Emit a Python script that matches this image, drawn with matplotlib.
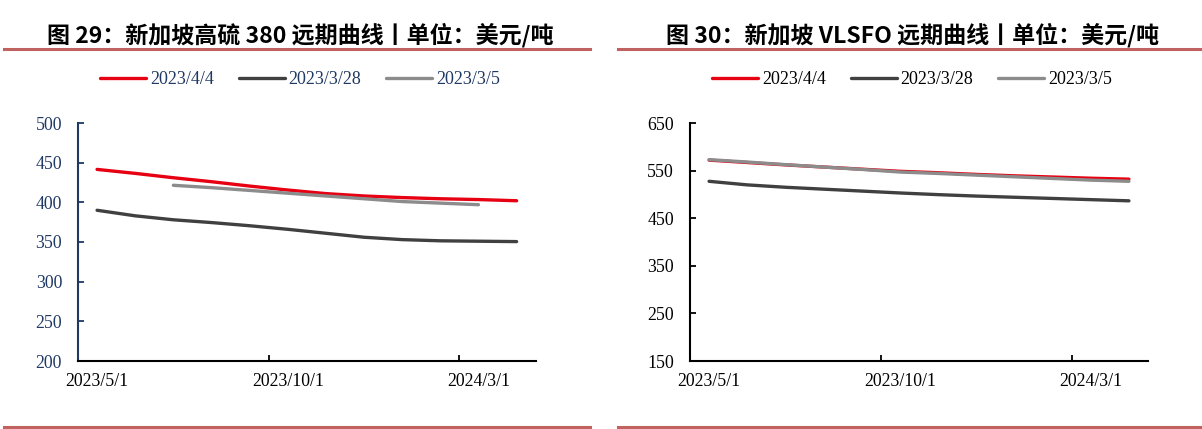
import numpy as np
import matplotlib.pyplot as plt
from matplotlib.lines import Line2D

# monthly categories of the forward curve
months = ['2023/5/1', '2023/6/1', '2023/7/1', '2023/8/1', '2023/9/1', '2023/10/1',
          '2023/11/1', '2023/12/1', '2024/1/1', '2024/2/1', '2024/3/1', '2024/4/1']
shown = [0, 5, 10]

series_names = ['2023/4/4', '2023/3/28', '2023/3/5']

# 新加坡高硫 380
hs_0404 = [441.5, 436.5, 431, 426, 420.5, 415.5, 411, 408, 406, 404.5, 403.5, 402]
hs_0328 = [390, 383, 378, 374.5, 370.5, 366, 361, 356, 353, 351.5, 351, 350.5]
hs_0305 = [np.nan, np.nan, 421.5, 418.5, 415, 411.5, 408, 404.5, 401, 399, 397, np.nan]

# 新加坡 VLSFO
vl_0404 = [572, 567, 562, 557.5, 553, 548.5, 545.5, 542, 539, 536.5, 534, 532]
vl_0328 = [527.5, 520, 515, 511, 507, 503, 499.5, 496.5, 494, 491.5, 489, 486.5]
vl_0305 = [573, 568, 562.5, 557.5, 552.5, 547, 544, 540.5, 537, 533.5, 530, 527.5]

colors = ['#E60012', '#404040', '#8C8C8C']
navy = '#1F3864'
rule_c = '#C0625F'
serif = 'Liberation Serif'
cjk = ['Noto Sans CJK SC', 'DejaVu Sans']

W, H = 1202, 429
fig = plt.figure(figsize=(W / 100, H / 100), dpi=100)


def fx(p):
    return p / W


def fy(p):
    return 1 - p / H


def panel(x0, x1, data, ylim, yticks, title, tcx, axis_c, ylab_c, leg_c):
    ax = fig.add_axes([fx(x0), fy(361), fx(x1 - x0), (361 - 123) / H])
    x = np.arange(len(months))
    for vals, c, name in zip(data, colors, series_names):
        ax.plot(x, vals, color=c, lw=2.4, solid_capstyle='round', label=name)
    ax.set_xlim(-0.5, len(months) - 0.5)
    ax.set_ylim(*ylim)
    ax.set_yticks(yticks)
    ax.set_yticklabels([str(v) for v in yticks], fontfamily=serif, fontsize=12.8, color=ylab_c)
    ax.set_xticks([-0.5, 4.5, 9.5])
    ax.set_xticklabels([])
    ax.set_xticks(shown, minor=True)
    ax.set_xticklabels([months[i] for i in shown], minor=True, fontfamily=serif, fontsize=12.8)
    ax.tick_params(axis='x', which='major', direction='in', length=4, width=1.3, color='black')
    ax.tick_params(axis='x', which='minor', length=0, pad=9)
    ax.tick_params(axis='y', direction='in', length=4, width=1.3, color=axis_c, pad=11.5)
    for s in ['top', 'right']:
        ax.spines[s].set_visible(False)
    ax.spines['left'].set_color(axis_c)
    ax.spines['left'].set_linewidth(1.5)
    ax.spines['bottom'].set_color('black')
    ax.spines['bottom'].set_linewidth(1.5)

    leg = ax.legend(loc='center', bbox_to_anchor=(fx(tcx), fy(80)), bbox_transform=fig.transFigure,
                    ncol=3, frameon=False, handlelength=2.55, handletextpad=0.22,
                    columnspacing=1.38, prop={'family': serif, 'size': 13})
    for t in leg.get_texts():
        t.set_color(leg_c)

    fig.text(fx(tcx), fy(35), title, ha='center', va='center', fontsize=16.6,
             fontweight='bold', family=cjk)
    return ax


panel(78, 535.7, [hs_0404, hs_0328, hs_0305], (200, 500), list(range(200, 501, 50)),
      '图 29：新加坡高硫 380 远期曲线丨单位：美元/吨', 300, navy, navy, navy)
panel(690, 1148, [vl_0404, vl_0328, vl_0305], (150, 650), list(range(150, 651, 100)),
      '图 30：新加坡 VLSFO 远期曲线丨单位：美元/吨', 912, 'black', 'black', 'black')

# decorative rules under titles and at the bottom
for (a, b) in [(4, 590), (618, 1202)]:
    fig.add_artist(Line2D([fx(a), fx(b)], [fy(49), fy(49)], color=rule_c, lw=2.2))
    fig.add_artist(Line2D([fx(a), fx(b)], [fy(427), fy(427)], color=rule_c, lw=2.2))

fig.savefig('out.png', dpi=100)
